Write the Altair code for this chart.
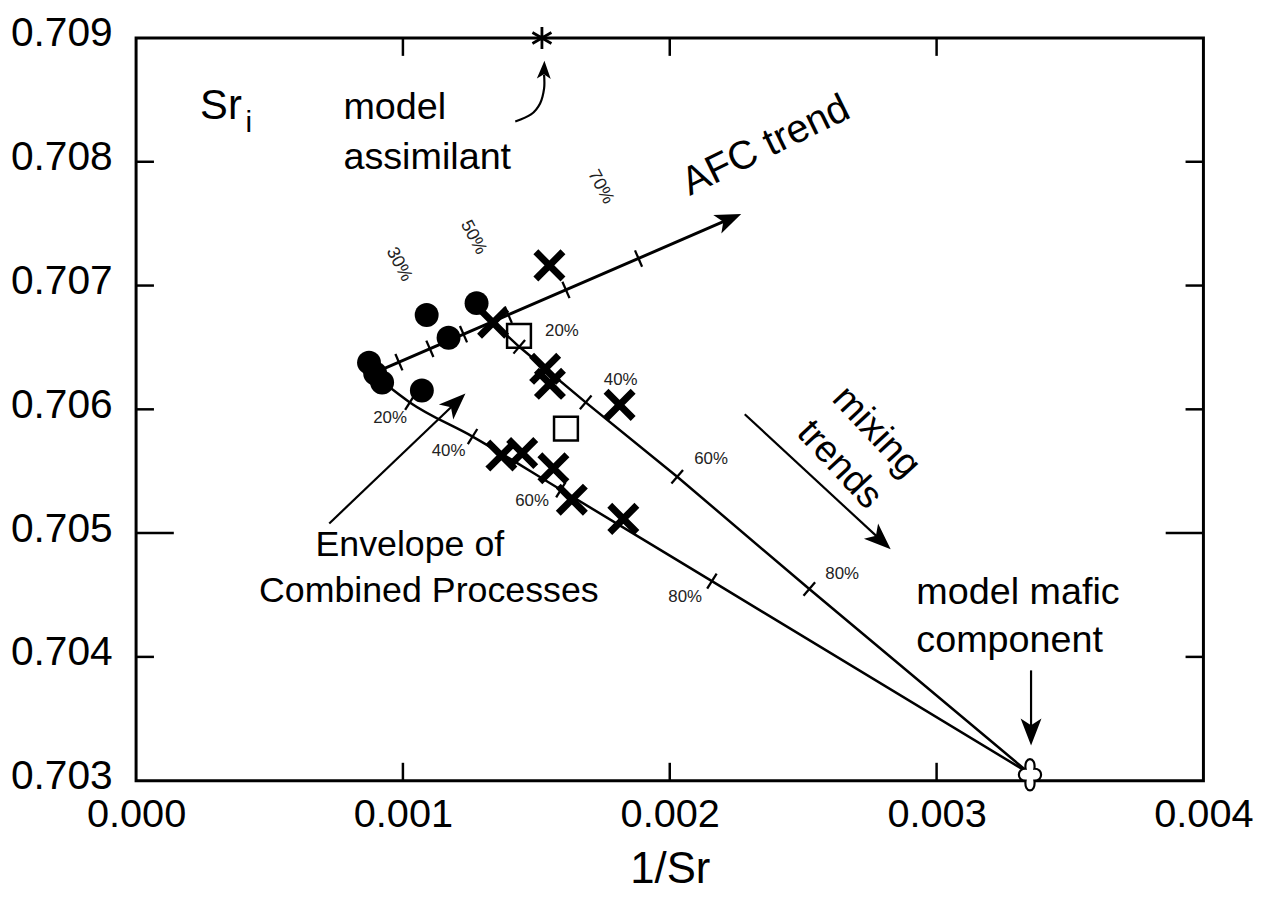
import altair as alt
import pandas as pd

# ---------------- values ----------------
# filled circles
circle_x = [0.000873, 0.000896, 0.000922, 0.001071, 0.001089, 0.001171, 0.001276]
circle_y = [0.706377, 0.706289, 0.706217, 0.706152, 0.706762, 0.706578, 0.706858]
# bold crosses
cross_x = [0.001549, 0.001338, 0.001533, 0.001551, 0.001812, 0.001369, 0.001447, 0.001564, 0.001633, 0.001826]
cross_y = [0.707163, 0.706700, 0.706327, 0.706206, 0.706036, 0.705627, 0.705647, 0.705524, 0.705270, 0.705115]
# open squares
square_x = [0.001435, 0.001611]
square_y = [0.706594, 0.705844]
# end members
assim_x = [0.001521]
assim_y = [0.709000]
mafic_x = [0.003350]
mafic_y = [0.703048]

# AFC trend line and its tick marks
afc_x = [0.000929, 0.002218]
afc_y = [0.706329, 0.707532]
afc_tick_x = [0.000985, 0.001101, 0.001227, 0.001395, 0.001611, 0.001883]
afc_tick_y = [0.706381, 0.706489, 0.706607, 0.706764, 0.706965, 0.707218]
afc_pct = ["30%", "50%", "70%"]
afc_pct_x = [0.000985, 0.001264, 0.001741]
afc_pct_y = [0.707171, 0.707388, 0.707797]

# upper mixing curve
mixU_x = [0.001268, 0.001339, 0.001436, 0.001685, 0.002028, 0.002523, 0.003350]
mixU_y = [0.706866, 0.706698, 0.706505, 0.706056, 0.705455, 0.704548, 0.703056]
mixU_tick_x = [0.001436, 0.001685, 0.002028, 0.002523]
mixU_tick_y = [0.706505, 0.706056, 0.705455, 0.704548]
mixU_pct = ["20%", "40%", "60%", "80%"]
mixU_pct_x = [0.001596, 0.001816, 0.002155, 0.002646]
mixU_pct_y = [0.706634, 0.706233, 0.705599, 0.704669]

# lower mixing curve
mixL_x = [0.000918, 0.001026, 0.001261, 0.001592, 0.002158, 0.003350]
mixL_y = [0.706233, 0.706056, 0.705780, 0.705350, 0.704612, 0.703056]
mixL_tick_x = [0.001026, 0.001261, 0.001592, 0.002158]
mixL_tick_y = [0.706056, 0.705780, 0.705350, 0.704612]
mixL_pct = ["20%", "40%", "60%", "80%"]
mixL_pct_x = [0.000952, 0.001171, 0.001484, 0.002058]
mixL_pct_y = [0.705928, 0.705663, 0.705262, 0.704484]

# annotation arrows
mixarrow_x = [0.002281, 0.002787]
mixarrow_y = [0.705960, 0.704951]
envarrow_x = [0.000724, 0.001194]
envarrow_y = [0.705078, 0.706045]
mafarrow_x = [0.003354, 0.003354]
mafarrow_y = [0.703891, 0.703405]
assarrow_x = [0.001421, 0.001480, 0.001514, 0.001529, 0.001529]
assarrow_y = [0.708326, 0.708382, 0.708471, 0.708591, 0.708703]
asshead_x = [0.001529]
asshead_y = [0.708735]

# annotation texts
left_text = ["model", "assimilant", "model mafic", "component"]
left_text_x = [0.000777, 0.000777, 0.002924, 0.002924]
left_text_y = [0.708342, 0.707941, 0.704428, 0.704043]
env_text = ["Envelope of", "Combined Processes"]
env_text_x = [0.001026, 0.001097]
env_text_y = [0.704813, 0.704444]
afc_text = ["AFC trend"]
afc_text_x = [0.002360]
afc_text_y = [0.708130]
mix_text = ["mixing", "trends"]
mix_text_x = [0.002773, 0.002635]
mix_text_y = [0.705816, 0.705551]
sr_text = ["Sr"]
sr_x = [0.000240]
sr_y = [0.708342]
sub_text = ["i"]
sub_x = [0.000410]
sub_y = [0.708240]

# axes
x_domain = [0.000, 0.004]
y_domain = [0.703, 0.709]
x_ticks = [0.000, 0.001, 0.002, 0.003, 0.004]
y_ticks = [0.703, 0.704, 0.705, 0.706, 0.707, 0.708, 0.709]
x_inner_ticks = [0.001, 0.002, 0.003]
y_inner_ticks = [0.704, 0.706, 0.707, 0.708]
y_long_ticks = [0.705]

# ---------------- chart ----------------
W, H = 1075, 748
FONT = "Liberation Sans, Arial, Helvetica, sans-serif"

xs = alt.Scale(domain=x_domain, nice=False, zero=False)
ys = alt.Scale(domain=y_domain, nice=False, zero=False)
xaxis = alt.Axis(values=x_ticks, format=".3f", ticks=False, domain=False, grid=False,
                 labelFont=FONT, labelFontSize=40, labelPadding=14, labelColor="black",
                 labelOverlap=False, labelFlush=False,
                 title="1/Sr", titleFont=FONT, titleFontSize=44, titleFontWeight="normal",
                 titlePadding=14, titleColor="black")
yaxis = alt.Axis(values=y_ticks, format=".3f", ticks=False, domain=False, grid=False,
                 labelFont=FONT, labelFontSize=41, labelPadding=24, labelColor="black",
                 labelOverlap=False, labelFlush=False, labelOffset=-4, title="")


def X():
    return alt.X("x:Q", scale=xs, axis=xaxis)


def Y():
    return alt.Y("y:Q", scale=ys, axis=yaxis)


def df(xv, yv, **extra):
    d = {"x": xv, "y": yv}
    d.update(extra)
    return pd.DataFrame(d)


def line(xv, yv, width=2.5, interp="linear"):
    return alt.Chart(df(xv, yv, o=list(range(len(xv))))).mark_line(
        color="black", strokeWidth=width, interpolate=interp
    ).encode(x=X(), y=Y(), order="o:Q")


def points(xv, yv, shape, size, filled, stroke_width=1.0, angle=0.0, fill=None, cap="butt"):
    kw = dict(shape=shape, size=size, filled=filled, opacity=1, strokeWidth=stroke_width,
              angle=angle, strokeCap=cap)
    if fill is not None:
        kw.update(fill=fill, stroke="black")
    else:
        kw.update(color="black")
    return alt.Chart(df(xv, yv)).mark_point(**kw).encode(x=X(), y=Y())


def texts(tv, xv, yv, size, angle=0.0, align="center", baseline="middle", font=FONT, color="black"):
    return alt.Chart(df(xv, yv, t=tv)).mark_text(
        font=font, fontSize=size, angle=angle, align=align, baseline=baseline, color=color
    ).encode(x=X(), y=Y(), text="t:N")


HEAD = "M0,-1L0.7,0.8L0,0.35L-0.7,0.8Z"
XMARK = "M-1,-1L1,1M-1,1L1,-1"
STAR = "M0,-1L0,1M-0.87,-0.5L0.87,0.5M-0.87,0.5L0.87,-0.5"
CLOVER = ("M-0.28,-0.38C-0.4,-1.2 0.4,-1.2 0.28,-0.38C0.85,-0.4 0.85,0.4 0.28,0.38"
          "C0.4,1.2 -0.4,1.2 -0.28,0.38C-0.85,0.4 -0.85,-0.4 -0.28,-0.38Z")

layers = []
# frame ticks (inward)
layers.append(alt.Chart(pd.DataFrame({"x": x_inner_ticks})).mark_rule(color="black", strokeWidth=2.5)
              .encode(x=X(), y=alt.value(H), y2=alt.value(H - 18)))
layers.append(alt.Chart(pd.DataFrame({"x": x_inner_ticks})).mark_rule(color="black", strokeWidth=2.5)
              .encode(x=X(), y=alt.value(0), y2=alt.value(18)))
layers.append(alt.Chart(pd.DataFrame({"y": y_inner_ticks})).mark_rule(color="black", strokeWidth=2.5)
              .encode(y=Y(), x=alt.value(0), x2=alt.value(18)))
layers.append(alt.Chart(pd.DataFrame({"y": y_inner_ticks})).mark_rule(color="black", strokeWidth=2.5)
              .encode(y=Y(), x=alt.value(W), x2=alt.value(W - 18)))
layers.append(alt.Chart(pd.DataFrame({"y": y_long_ticks})).mark_rule(color="black", strokeWidth=2.5)
              .encode(y=Y(), x=alt.value(0), x2=alt.value(38)))
layers.append(alt.Chart(pd.DataFrame({"y": y_long_ticks})).mark_rule(color="black", strokeWidth=2.5)
              .encode(y=Y(), x=alt.value(W), x2=alt.value(W - 38)))

# model curves
layers.append(line(mixU_x, mixU_y, 2.5))
layers.append(line(mixL_x, mixL_y, 2.5, "monotone"))
layers.append(line(afc_x, afc_y, 3))
layers.append(points(afc_tick_x, afc_tick_y, "stroke", 324, False, 2.3, 66.6))
layers.append(points(mixU_tick_x, mixU_tick_y, "stroke", 324, False, 2.3, 130.4))
layers.append(points(mixL_tick_x, mixL_tick_y, "stroke", 324, False, 2.3, 122))
layers.append(points(afc_x[-1:], afc_y[-1:], HEAD, 850, True, 0, 66.6))

# arrows
layers.append(line(mixarrow_x, mixarrow_y, 2.2))
layers.append(points(mixarrow_x[-1:], mixarrow_y[-1:], HEAD, 900, True, 0, 132.8))
layers.append(line(envarrow_x, envarrow_y, 2.2))
layers.append(points(envarrow_x[-1:], envarrow_y[-1:], HEAD, 900, True, 0, 46.3))
layers.append(line(mafarrow_x, mafarrow_y, 2.2))
layers.append(points(mafarrow_x[-1:], mafarrow_y[-1:], HEAD, 900, True, 0, 180))
layers.append(line(assarrow_x, assarrow_y, 2.2, "cardinal"))
layers.append(points(asshead_x, asshead_y, HEAD, 400, True, 0, 2))

# data symbols
layers.append(points(circle_x, circle_y, "circle", 580, True))
layers.append(points(cross_x, cross_y, XMARK, 500, False, 7, 0, cap="square"))
layers.append(points(square_x, square_y, "square", 576, False, 2.5))
layers.append(points(assim_x, assim_y, STAR, 484, False, 2.8))
layers.append(points(mafic_x, mafic_y, CLOVER, 1000, True, 2.2, 0, fill="white"))

# percent labels
layers.append(texts(mixU_pct, mixU_pct_x, mixU_pct_y, 17, color="#222222"))
layers.append(texts(mixL_pct, mixL_pct_x, mixL_pct_y, 17, color="#222222"))
layers.append(texts(afc_pct, afc_pct_x, afc_pct_y, 18, angle=62, color="#222222"))

# annotations
layers.append(texts(left_text, left_text_x, left_text_y, 38, align="left", baseline="alphabetic"))
layers.append(texts(env_text, env_text_x, env_text_y, 36, baseline="alphabetic"))
layers.append(texts(afc_text, afc_text_x, afc_text_y, 40, angle=334))
layers.append(texts(mix_text, mix_text_x, mix_text_y, 38, angle=47))
layers.append(texts(sr_text, sr_x, sr_y, 42, align="left", baseline="alphabetic"))
layers.append(texts(sub_text, sub_x, sub_y, 30, align="left", baseline="alphabetic"))

chart = alt.layer(*layers).properties(
    width=W, height=H,
    autosize=alt.AutoSizeParams(type="none"),
    padding={"left": 129, "top": 27, "right": 60, "bottom": 120},
).configure(
    background="white",
    view=alt.ViewConfig(stroke="black", strokeWidth=3),
)

chart.save("out.html", embed_options={"renderer": "svg", "actions": False})
